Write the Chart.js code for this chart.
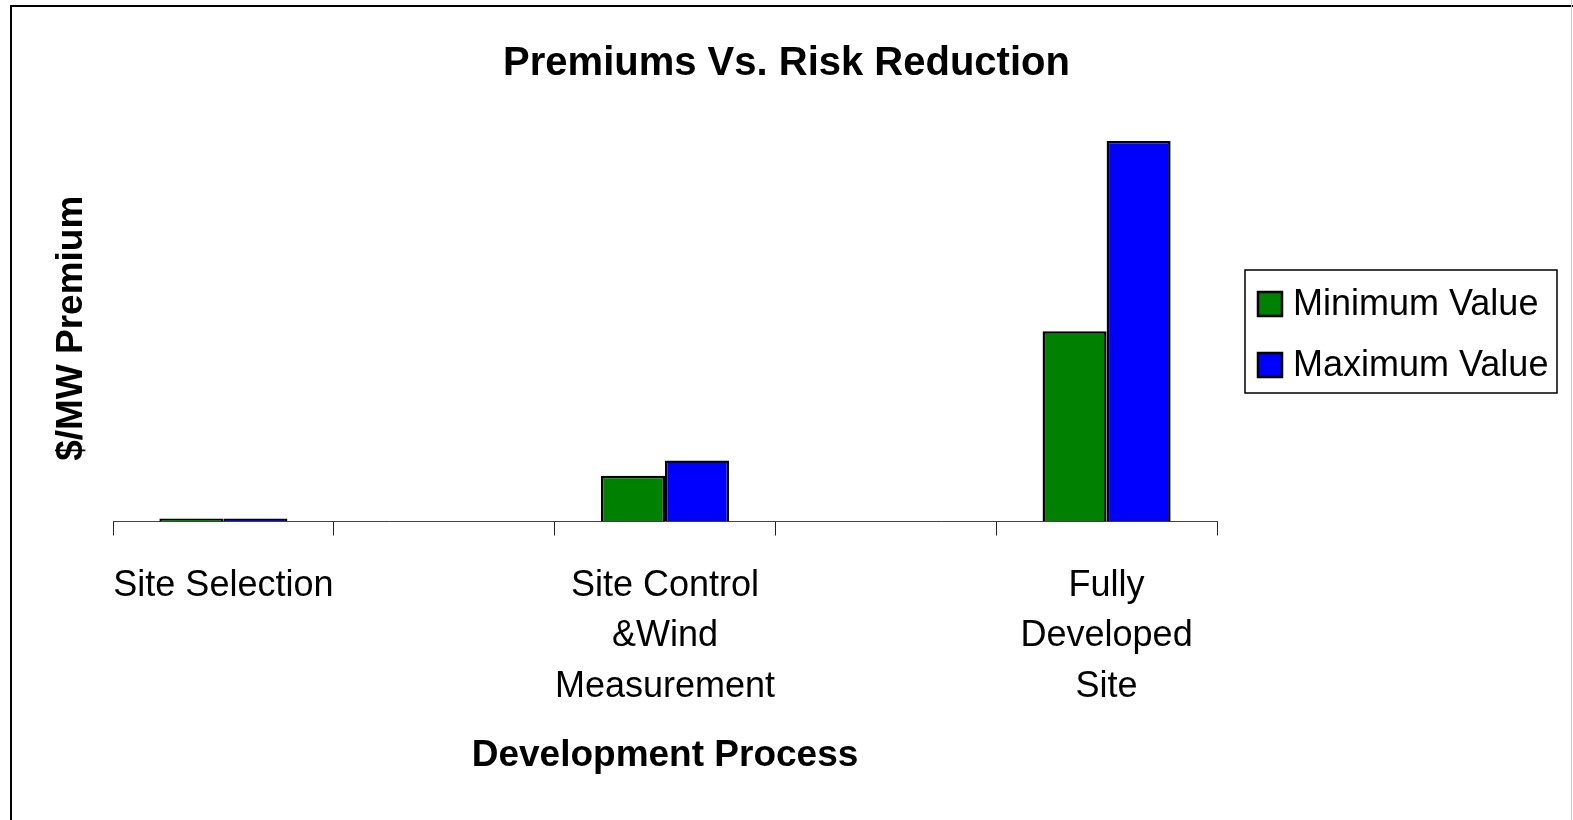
<!DOCTYPE html>
<html>
<head>
<meta charset="utf-8">
<script src="https://cdn.jsdelivr.net/npm/chart.js@4/dist/chart.umd.min.js"></script>
<style>
  html, body { margin: 0; padding: 0; background: #fff; overflow: hidden; }
  #frame { position: absolute; left: 10px; top: 5px; width: 1700px; height: 900px;
           border-left: 2px solid #000; border-top: 2px solid #000; }
  #edge { position: absolute; left: 1571px; top: 0; width: 1px; height: 820px; background: #ccc; }
  #chart { position: absolute; left: 0; top: 0; }
</style>
</head>
<body>
<div id="frame"></div>
<div id="edge"></div>
<canvas id="chart" width="1573" height="820"></canvas>
<script>
// Categories (empty slots keep the spacing between the three stages)
const categories = [
    'Site Selection',
    '',
    ['Site Control', '&Wind', 'Measurement'],
    '',
    ['Fully', 'Developed', 'Site']
];

// $/MW premium (no axis values in the original)
const minValues = [2000, null, 30000, null, 125000];
const maxValues = [2000, null, 40000, null, 250000];

const seriesNames = ['Minimum Value', 'Maximum Value'];
const seriesColors = ['#008000', '#0000ff'];

const chartTitle = 'Premiums Vs. Risk Reduction';
const xTitle = 'Development Process';
const yTitle = '$/MW Premium';

const FONT = "'Liberation Sans', Arial, sans-serif";

// Boxed legend on the right, like the original
const boxLegend = {
    id: 'boxLegend',
    afterDraw: function(chart) {
        const ctx = chart.ctx;
        const left = 1245, top = 270, w = 312, h = 123;
        ctx.save();
        ctx.strokeStyle = '#000';
        ctx.lineWidth = 1.5;
        ctx.strokeRect(left, top, w, h);
        ctx.font = '36px ' + FONT;
        ctx.textBaseline = 'middle';
        chart.data.datasets.forEach(function(ds, i) {
            const cy = 304 + i * 61;
            ctx.fillStyle = ds.backgroundColor;
            ctx.fillRect(1258, cy - 12, 24, 24);
            ctx.lineWidth = 2.5;
            ctx.strokeRect(1258, cy - 12, 24, 24);
            ctx.fillStyle = '#000';
            ctx.fillText(ds.label, 1293, cy + 1);
        });
        ctx.restore();
    }
};

const ctx = document.getElementById('chart');
new Chart(ctx, {
    type: 'bar',
    data: {
        labels: categories,
        datasets: [
            { label: seriesNames[0], data: minValues, backgroundColor: seriesColors[0],
              borderColor: '#000', borderWidth: 2.5 },
            { label: seriesNames[1], data: maxValues, backgroundColor: seriesColors[1],
              borderColor: '#000', borderWidth: 2.5 }
        ]
    },
    options: {
        responsive: false,
        animation: false,
        layout: { padding: { left: 0, right: 0, top: 0, bottom: 42 } },
        datasets: { bar: { categoryPercentage: 0.58, barPercentage: 1.0 } },
        plugins: {
            legend: { display: false },
            tooltip: { enabled: false },
            title: {
                display: true,
                text: chartTitle,
                color: '#000',
                font: { family: FONT, size: 40, weight: 'bold' },
                padding: { top: 40, bottom: 47 }
            }
        },
        scales: {
            x: {
                offset: true,
                grid: { display: true, drawOnChartArea: false, drawTicks: true, tickLength: 14,
                        color: '#222', offset: true },
                border: { display: true, color: '#444', width: 1 },
                ticks: { color: '#000', font: { family: FONT, size: 36, lineHeight: 1.39 },
                         padding: 26, autoSkip: false, maxRotation: 0, minRotation: 0 },
                title: { display: true, text: xTitle, color: '#000',
                         font: { family: FONT, size: 37, weight: 'bold' },
                         padding: { top: -4, bottom: 0 } }
            },
            y: {
                min: 0,
                max: 254000,
                grid: { display: false },
                border: { display: false },
                ticks: { display: false },
                title: { display: true, text: yTitle, color: '#000',
                         font: { family: FONT, size: 37, weight: 'bold' },
                         padding: { top: 50, bottom: 0 } },
                afterFit: function(scale) { scale.width = 113; }
            },
            pad: {
                type: 'linear',
                position: 'right',
                grid: { display: false },
                border: { display: false },
                ticks: { display: false },
                afterFit: function(scale) { scale.width = 356; }
            }
        }
    },
    plugins: [boxLegend]
});
</script>
</body>
</html>
